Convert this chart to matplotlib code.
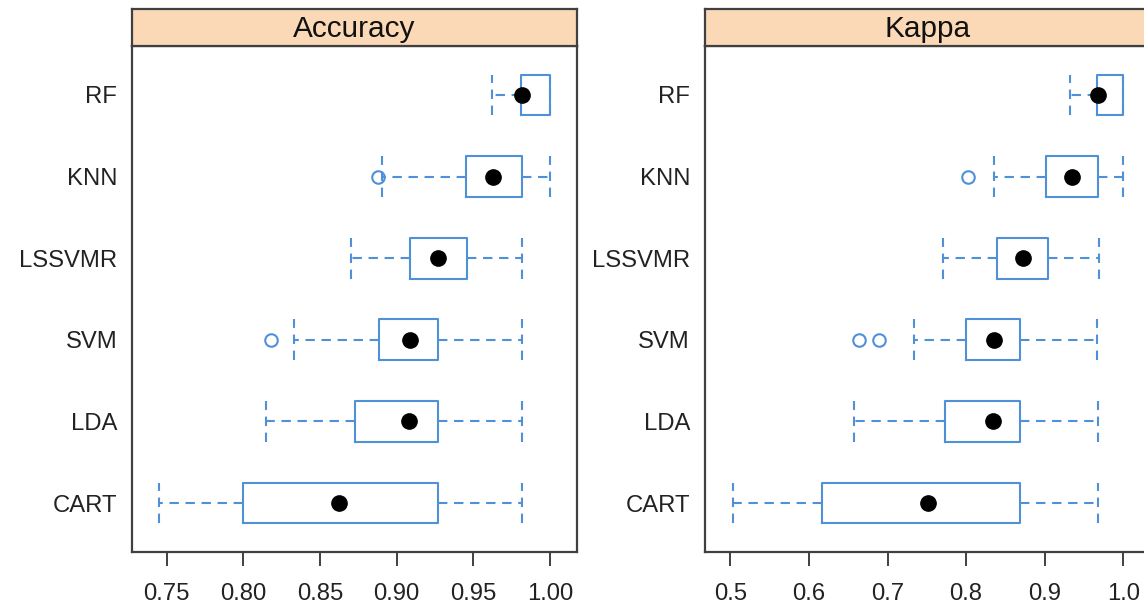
import matplotlib
matplotlib.use("Agg")
import matplotlib.pyplot as plt

plt.rcParams['font.family'] = ['Liberation Sans', 'DejaVu Sans']

# --- data ---
models = ['RF', 'KNN', 'LSSVMR', 'SVM', 'LDA', 'CART']

acc_lo = [0.962, 0.8906, 0.870, 0.833, 0.8146, 0.745]
acc_q1 = [0.981, 0.945, 0.9087, 0.8887, 0.8728, 0.800]
acc_med = [0.9815, 0.963, 0.927, 0.9087, 0.908, 0.8624]
acc_q3 = [1.0, 0.982, 0.9457, 0.927, 0.927, 0.927]
acc_hi = [1.0, 1.0, 0.982, 0.982, 0.982, 0.982]
acc_out = [[], [0.888], [], [0.818], [], []]

kap_lo = [0.932, 0.835, 0.770, 0.734, 0.658, 0.503]
kap_q1 = [0.967, 0.902, 0.8395, 0.800, 0.773, 0.617]
kap_med = [0.968, 0.935, 0.872, 0.836, 0.834, 0.752]
kap_q3 = [1.0, 0.968, 0.9045, 0.869, 0.869, 0.869]
kap_hi = [1.0, 1.0, 0.9686, 0.967, 0.968, 0.968]
kap_out = [[], [0.802], [], [0.664, 0.689], [], []]

acc_ticks = [0.75, 0.80, 0.85, 0.90, 0.95, 1.00]
acc_ticklabels = ['0.75', '0.80', '0.85', '0.90', '0.95', '1.00']
kap_ticks = [0.5, 0.6, 0.7, 0.8, 0.9, 1.0]
kap_ticklabels = ['0.5', '0.6', '0.7', '0.8', '0.9', '1.0']

BLUE = '#4f90d6'
FRAME = '#404040'
STRIP = '#fbd8b6'

W, H = 1144, 603
fig = plt.figure(figsize=(W / 100, H / 100), dpi=100)


def panel(x0, xlim, title, lo, q1, med, q3, hi, out, ticks, ticklabels):
    ax = fig.add_axes([x0 / W, 1 - 552 / H, 444.4 / W, 506 / H])
    pos = list(range(len(models), 0, -1))
    stats = []
    for i in range(len(models)):
        stats.append(dict(whislo=lo[i], q1=q1[i], med=med[i], q3=q3[i],
                          whishi=hi[i], fliers=out[i]))
    ax.bxp(stats, positions=pos, orientation='horizontal', widths=0.5,
           capwidths=0.5, patch_artist=False,
           boxprops=dict(color=BLUE, lw=1.5),
           whiskerprops=dict(color=BLUE, lw=1.5, linestyle=(0, (4.5, 3.2))),
           capprops=dict(color=BLUE, lw=1.5, linestyle=(0, (4.5, 3.2))),
           medianprops=dict(visible=False),
           flierprops=dict(marker='o', markersize=9, markerfacecolor='none',
                           markeredgecolor=BLUE, markeredgewidth=1.5))
    ax.plot(med, pos, 'o', color='black', markersize=11, zorder=5)

    ax.set_xlim(*xlim)
    ax.set_ylim(0.4, 6.6)
    ax.set_yticks(pos)
    ax.set_yticklabels(models)
    ax.set_xticks(ticks)
    ax.set_xticklabels(ticklabels)
    ax.tick_params(axis='y', length=0, pad=10.8, labelsize=17.2,
                   labelcolor='#222222')
    ax.tick_params(axis='x', length=10, width=1.4, color=FRAME, pad=12,
                   labelsize=17.2, labelcolor='#222222')
    for s in ax.spines.values():
        s.set_color(FRAME)
        s.set_linewidth(1.6)

    st = fig.add_axes([x0 / W, 1 - 46 / H, 444.4 / W, 37 / H])
    st.set_facecolor(STRIP)
    st.set_xticks([])
    st.set_yticks([])
    for s in st.spines.values():
        s.set_color(FRAME)
        s.set_linewidth(1.6)
    st.text(0.5, 0.45, title, ha='center', va='center', fontsize=21.4,
            color='#111111', transform=st.transAxes)
    return ax


panel(132.3, (0.7276, 1.0174), 'Accuracy', acc_lo, acc_q1, acc_med, acc_q3,
      acc_hi, acc_out, acc_ticks, acc_ticklabels)
panel(705.0, (0.4678, 1.0332), 'Kappa', kap_lo, kap_q1, kap_med, kap_q3,
      kap_hi, kap_out, kap_ticks, kap_ticklabels)

fig.savefig('out.png', dpi=100)
